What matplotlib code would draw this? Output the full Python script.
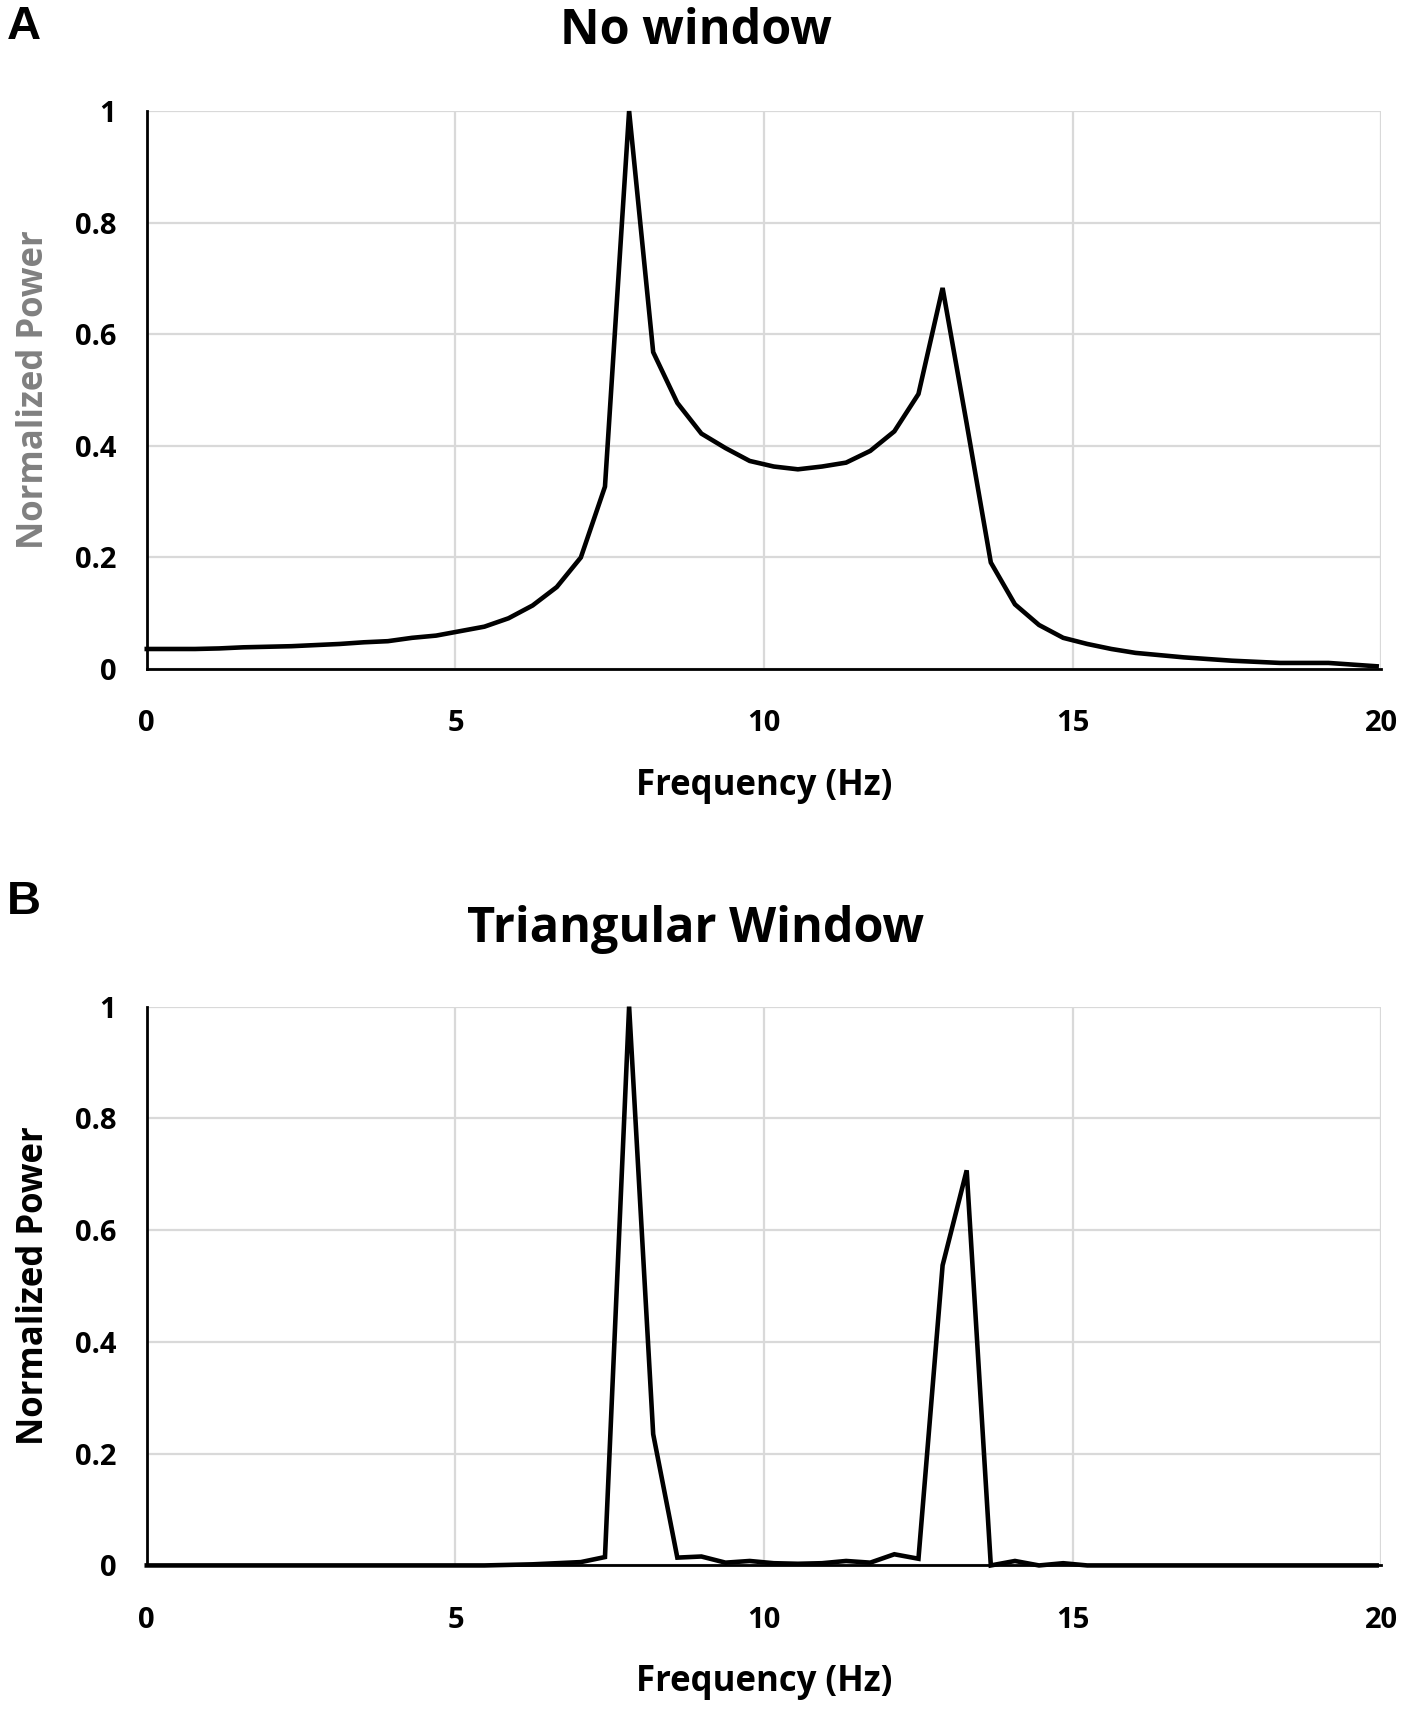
import matplotlib
matplotlib.use("Agg")
import matplotlib.pyplot as plt

freq = [0.0, 0.391, 0.781, 1.172, 1.563, 1.953, 2.344, 2.734, 3.125, 3.516,
        3.906, 4.297, 4.688, 5.078, 5.469, 5.859, 6.25, 6.641, 7.031, 7.422,
        7.813, 8.203, 8.594, 8.984, 9.375, 9.766, 10.156, 10.547, 10.938, 11.328,
        11.719, 12.109, 12.5, 12.891, 13.281, 13.672, 14.063, 14.453, 14.844, 15.234,
        15.625, 16.016, 16.406, 16.797, 17.188, 17.578, 17.969, 18.359, 18.75, 19.141,
        19.531, 19.922]

power_no_window = [0.036, 0.036, 0.036, 0.037, 0.039, 0.040, 0.041, 0.043, 0.045, 0.048,
                   0.050, 0.056, 0.060, 0.068, 0.076, 0.091, 0.114, 0.147, 0.200, 0.327,
                   1.000, 0.568, 0.477, 0.422, 0.396, 0.373, 0.363, 0.358, 0.363, 0.370,
                   0.391, 0.426, 0.493, 0.683, 0.440, 0.191, 0.116, 0.079, 0.056, 0.045,
                   0.036, 0.029, 0.025, 0.021, 0.018, 0.015, 0.013, 0.011, 0.011, 0.011,
                   0.008, 0.005]

power_triangular = [0.0, 0.0, 0.0, 0.0, 0.0, 0.0, 0.0, 0.0, 0.0, 0.0,
                    0.0, 0.0, 0.0, 0.0, 0.0, 0.001, 0.002, 0.004, 0.006, 0.015,
                    1.000, 0.235, 0.014, 0.016, 0.005, 0.008, 0.004, 0.003, 0.004, 0.008,
                    0.005, 0.020, 0.012, 0.537, 0.707, 0.0, 0.008, 0.0, 0.004, 0.0,
                    0.0, 0.0, 0.0, 0.0, 0.0, 0.0, 0.0, 0.0, 0.0, 0.0,
                    0.0, 0.0]

titles = ["No window", "Triangular Window"]
panel_letters = ["A", "B"]
xticks = [0, 5, 10, 15, 20]
yticks = [0, 0.2, 0.4, 0.6, 0.8, 1]
ytick_labels = ["0", "0.2", "0.4", "0.6", "0.8", "1"]
xlabel = "Frequency (Hz)"
ylabel = "Normalized Power"

plt.rcParams['font.family'] = ['Open Sans', 'DejaVu Sans']

fig = plt.figure(figsize=(14.14, 17.09), dpi=100)
axes_rects = [[0.1038, 0.6085, 0.8732, 0.3265],
              [0.1038, 0.0840, 0.8732, 0.3270]]
ylabel_colors = ["#808080", "black"]
letter_y = [0.977, 0.4653]
title_y = [0.9745, 0.4488]

for i, (rect, series) in enumerate(zip(axes_rects, [power_no_window, power_triangular])):
    ax = fig.add_axes(rect)
    ax.plot(freq, series, color="black", lw=3.3, clip_on=False, zorder=3,
            solid_joinstyle="miter")
    ax.set_xlim(0, 20)
    ax.set_ylim(0, 1)
    ax.set_xticks(xticks)
    ax.set_yticks(yticks)
    ax.set_yticklabels(ytick_labels)
    ax.grid(True, color="#d9d9d9", lw=1.6)
    ax.set_axisbelow(True)
    for s in ["top", "right"]:
        ax.spines[s].set_visible(False)
    for s in ["left", "bottom"]:
        ax.spines[s].set_linewidth(2.0)
        ax.spines[s].set_color("black")
        ax.spines[s].set_zorder(4)
    ax.tick_params(length=0, labelsize=21)
    for lab in ax.get_xticklabels() + ax.get_yticklabels():
        lab.set_fontweight("bold")
    ax.tick_params(axis="x", pad=29)
    ax.tick_params(axis="y", pad=22)
    ax.set_xlabel(xlabel, fontsize=25, fontweight="bold", labelpad=21)
    ax.set_ylabel(ylabel, fontsize=25, fontweight="bold", labelpad=16,
                  color=ylabel_colors[i])
    fig.text(0.492, title_y[i], titles[i], ha="center", va="baseline",
             fontsize=35, fontweight="bold")
    fig.text(0.005, letter_y[i], panel_letters[i], ha="left", va="baseline",
             fontsize=34, fontweight="bold", family=["Liberation Sans", "DejaVu Sans"])

fig.savefig("out.png", dpi=100, facecolor="white")
